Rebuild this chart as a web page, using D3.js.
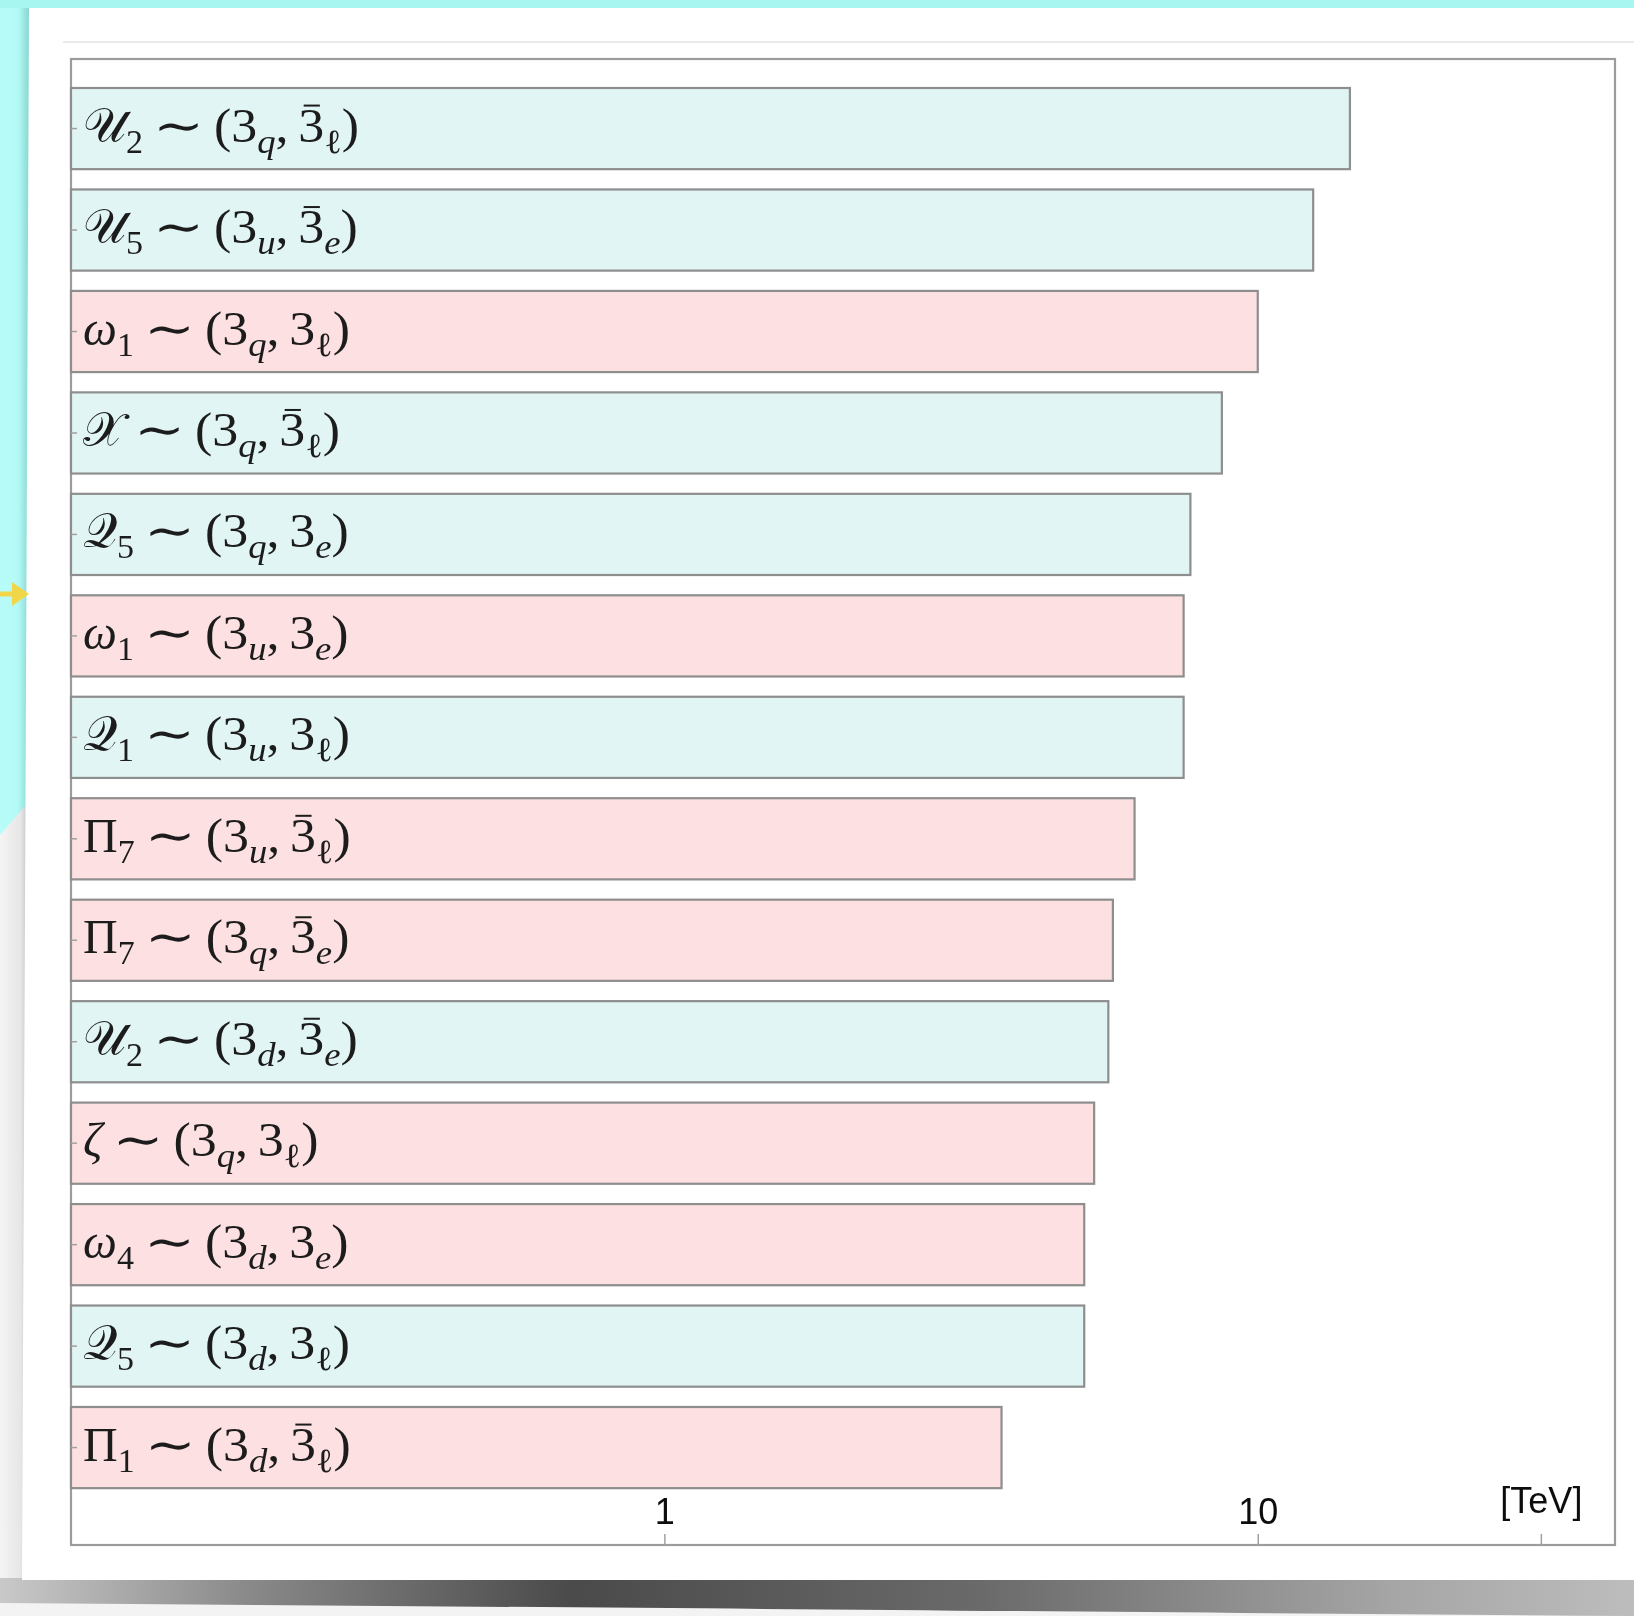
<!DOCTYPE html>
<html><head><meta charset="utf-8">
<script src="https://cdn.jsdelivr.net/npm/d3@7"></script>
<style>html,body{margin:0;padding:0;overflow:hidden;background:#a7f6ef}</style>
</head><body>
<svg id="chart" width="1634" height="1616" xmlns="http://www.w3.org/2000/svg"></svg>
<script>
// ---------------- data ----------------
const categories = [
  "𝒰2 ∼ (3q, 3̄ℓ)", "𝒰5 ∼ (3u, 3̄e)", "ω1 ∼ (3q, 3ℓ)", "𝒳 ∼ (3q, 3̄ℓ)",
  "𝒬5 ∼ (3q, 3e)", "ω1 ∼ (3u, 3e)", "𝒬1 ∼ (3u, 3ℓ)", "Π7 ∼ (3u, 3̄ℓ)",
  "Π7 ∼ (3q, 3̄e)", "𝒰2 ∼ (3d, 3̄e)", "ζ ∼ (3q, 3ℓ)", "ω4 ∼ (3d, 3e)",
  "𝒬5 ∼ (3d, 3ℓ)", "Π1 ∼ (3d, 3̄ℓ)"
];
const symbols      = ["𝒰","𝒰","ω","𝒳","𝒬","ω","𝒬","Π","Π","𝒰","ζ","ω","𝒬","Π"];
const symbolSubs   = ["2","5","1","","5","1","1","7","7","2","","4","5","1"];
const firstSubs    = ["q","u","q","q","q","u","u","u","q","d","q","d","d","d"];
const secondBarred = [true,true,false,true,false,false,false,true,true,true,false,false,false,true];
const secondSubs   = ["ℓ","e","ℓ","ℓ","e","e","ℓ","ℓ","e","e","ℓ","e","ℓ","ℓ"];
const massTeV      = [14.3,12.4,10.0,8.7,7.7,7.5,7.5,6.2,5.7,5.6,5.3,5.1,5.1,3.7];
const spinType     = ["vector","vector","scalar","vector","vector","scalar","vector",
                      "scalar","scalar","vector","scalar","scalar","vector","scalar"];
const tickValues   = [1, 10, 30];
const tickLabels   = ["1", "10", "[TeV]"];

// ---------------- style ----------------
const W = 1634, H = 1616;
const frame = {x0: 71, y0: 59, x1: 1615, y1: 1545};
const fillByType = {vector: "#e0f5f4", scalar: "#fde0e2"};
const svg = d3.select("#chart");
const defs = svg.append("defs");

// background decoration
const shGrad = defs.append("linearGradient").attr("id","shGrad").attr("x1","0").attr("x2","1");
[["0%","#c9c9c9"],["15%","#8a8a8a"],["35%","#4a4a4a"],["60%","#6a6a6a"],["85%","#a5a5a5"],["100%","#bdbdbd"]]
  .forEach(([o,c])=>shGrad.append("stop").attr("offset",o).attr("stop-color",c));
const leftGrad = defs.append("linearGradient").attr("id","leftGrad").attr("x1","0").attr("x2","1");
[["0%","#b8fcfa"],["60%","#b3faf6"],["100%","#86d3cd"]]
  .forEach(([o,c])=>leftGrad.append("stop").attr("offset",o).attr("stop-color",c));
const leftGrad2 = defs.append("linearGradient").attr("id","leftGrad2").attr("x1","0").attr("x2","1");
[["0%","#f4f4f4"],["70%","#e6e6e6"],["100%","#b4b4b4"]]
  .forEach(([o,c])=>leftGrad2.append("stop").attr("offset",o).attr("stop-color",c));
const blur = defs.append("filter").attr("id","soft").attr("x","-5%").attr("y","-5%").attr("width","110%").attr("height","110%");
blur.append("feGaussianBlur").attr("stdDeviation",0.6);

svg.append("rect").attr("width",W).attr("height",H).attr("fill","#a7f6ef");
svg.append("rect").attr("x",0).attr("y",8).attr("width",30).attr("height",H).attr("fill","url(#leftGrad)");
svg.append("path").attr("d","M0,835 L30,800 L30,1616 L0,1616 Z").attr("fill","url(#leftGrad2)");
svg.append("rect").attr("x",0).attr("y",1578).attr("width",W).attr("height",H-1578).attr("fill","#f3f3f3");
svg.append("path").attr("d","M0,1578 L1634,1578 L1634,1616 C1200,1613 700,1608 0,1603 Z").attr("fill","url(#shGrad)");
svg.append("path").attr("d","M29,8 L1634,8 L1634,1580 L22,1580 Z").attr("fill","#ffffff");
svg.append("line").attr("x1",63).attr("x2",W).attr("y1",42).attr("y2",42)
  .attr("stroke","#e4e4e4").attr("stroke-width",1.5);
// small yellow arrow at the left edge
svg.append("line").attr("x1",0).attr("x2",14).attr("y1",594).attr("y2",594)
  .attr("stroke","#f2d64a").attr("stroke-width",5);
svg.append("path").attr("d","M12,582 L29,594 L12,606 Z").attr("fill","#f2d64a");

// ---------------- chart ----------------
const g = svg.append("g").attr("filter","url(#soft)");

const x = d3.scaleLog().domain([0.1, 40]).range([frame.x0, frame.x1]);
const y = d3.scaleBand().domain(categories).range([77.85, 1498.3]).paddingInner(0.2).paddingOuter(0.1);

g.append("rect").attr("x",frame.x0).attr("y",frame.y0)
  .attr("width",frame.x1-frame.x0).attr("height",frame.y1-frame.y0)
  .attr("fill","none").attr("stroke","#9c9c9c").attr("stroke-width",2.2);

g.selectAll("rect.bar").data(categories).join("rect").attr("class","bar")
  .attr("x", x(0.1))
  .attr("y", d => y(d))
  .attr("width", (d,i) => x(massTeV[i]) - x(0.1))
  .attr("height", y.bandwidth())
  .attr("fill", (d,i) => fillByType[spinType[i]])
  .attr("stroke", "#8e8e8e").attr("stroke-width", 2.2);

// y ticks (inward)
const ya = g.append("g").attr("transform",`translate(${frame.x0},0)`)
  .call(d3.axisLeft(y).tickSize(-6).tickFormat(""));
ya.select(".domain").remove();
ya.selectAll("line").attr("stroke","#a0a0a0").attr("stroke-width",1.5);

// x axis (inward ticks, labels inside)
const xa = g.append("g").attr("transform",`translate(0,${frame.y1})`)
  .call(d3.axisBottom(x).tickValues(tickValues).tickFormat((d,i)=>tickLabels[i]).tickSizeInner(-11).tickSizeOuter(0));
xa.select(".domain").remove();
xa.selectAll("line").attr("stroke","#a0a0a0").attr("stroke-width",1.5);
xa.selectAll("text").attr("y", (d,i)=> i===2 ? -32 : -21).attr("dy","0")
  .attr("font-family","'Liberation Sans', Arial, sans-serif").attr("font-size",36).attr("fill","#111");

// labels: symbol part, relation part (stretched tilde), representation part
const FS = 48, SFS = 34, SUBDY = 11, labelX = 83;
const GAP1 = 10, GAP2 = 10, TILDE_SX = 1.27, REP_SX = 1.08;
const mathFont = "'Liberation Serif','DejaVu Serif',serif";
const ink = "#1c1c1c";
const labels = g.selectAll("g.lab").data(categories).join("g").attr("class","lab")
  .attr("transform", d => `translate(${labelX},${y(d)+y.bandwidth()/2+13})`);
labels.each(function(d,i){
  const gg = d3.select(this);
  // symbol
  const tA = gg.append("text").attr("font-family",mathFont).attr("font-size",FS).attr("fill",ink);
  const s = tA.append("tspan").text(symbols[i]);
  if (symbols[i]==="ω" || symbols[i]==="ζ") s.attr("font-style","italic");
  if (symbolSubs[i]) tA.append("tspan").attr("font-size",SFS).attr("dy",SUBDY).text(symbolSubs[i]);
  const wA = tA.node().getComputedTextLength();
  // relation
  const gT = gg.append("g").attr("transform",`translate(${wA+GAP1},0) scale(${TILDE_SX},1)`);
  const tT = gT.append("text").attr("font-family",mathFont).attr("font-size",FS).attr("fill",ink).text("∼");
  const wT = tT.node().getComputedTextLength()*TILDE_SX;
  // representation
  const gB = gg.append("g").attr("transform",`translate(${wA+GAP1+wT+GAP2},0) scale(${REP_SX},1)`);
  const t = gB.append("text").attr("font-family",mathFont).attr("font-size",FS).attr("fill",ink);
  t.append("tspan").text("(3");
  t.append("tspan").attr("font-size",SFS).attr("font-style","italic").attr("dy",SUBDY).text(firstSubs[i]);
  t.append("tspan").attr("dy",-SUBDY).text(",");
  const three = t.append("tspan").attr("dx",9).text("3");
  t.append("tspan").attr("font-size",SFS).attr("font-style", secondSubs[i]==="e" ? "italic" : "normal").attr("dy",SUBDY).text(secondSubs[i]);
  t.append("tspan").attr("dy",-SUBDY).text(")");
  if (secondBarred[i]) {
    const r = three.node().getExtentOfChar(0);
    gB.append("line").attr("x1", r.x + 5).attr("x2", r.x + r.width - 4)
      .attr("y1", -36).attr("y2", -36).attr("stroke",ink).attr("stroke-width",2);
  }
});
</script>
</body></html>
